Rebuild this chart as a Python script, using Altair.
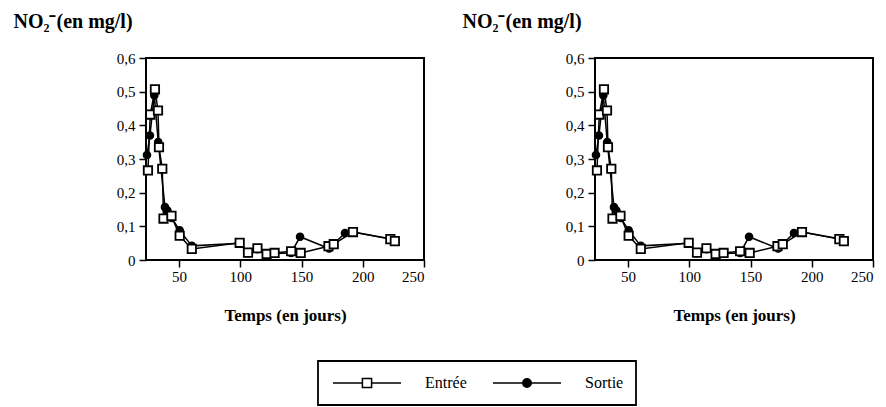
import altair as alt
import pandas as pd

series = ["Entrée", "Sortie"]

days_in = [24.6, 26.5, 30.3, 32.8, 33.6, 36.3, 37.3, 43.8, 50.5, 60.4, 99.5,
           106.3, 114.0, 121.5, 128.0, 141.5, 149.3, 172.0, 176.3, 192.0, 222.5, 226.2]
val_in = [0.266, 0.432, 0.507, 0.444, 0.335, 0.271, 0.123, 0.131, 0.072, 0.033, 0.051,
          0.022, 0.035, 0.018, 0.021, 0.026, 0.021, 0.041, 0.047, 0.083, 0.062, 0.056]

days_out = [23.8, 26.2, 29.8, 33.0, 38.5, 40.5, 44.0, 50.5, 60.4, 99.5,
            106.3, 114.0, 121.5, 128.0, 141.5, 148.8, 172.5, 185.5, 192.0, 222.5, 226.2]
val_out = [0.312, 0.370, 0.489, 0.350, 0.157, 0.147, 0.125, 0.088, 0.042, 0.050,
           0.020, 0.032, 0.015, 0.019, 0.021, 0.069, 0.034, 0.080, 0.083, 0.063, 0.057]

x_ticks = [50, 100, 150, 200, 250]
y_ticks = [0, 0.1, 0.2, 0.3, 0.4, 0.5, 0.6]
y_title = "NO₂⁻(en mg/l)"
x_title = "Temps (en jours)"

df = pd.DataFrame({
    "jour": days_in + days_out,
    "val": val_in + val_out,
    "serie": [series[0]] * len(days_in) + [series[1]] * len(days_out),
})

FONT = "Liberation Serif"

# legend symbols: a line with the marker in its middle (unit = 34 px)
sq_path = "M-1,0H-0.135M0.135,0H1M-0.135,-0.135H0.135V0.135H-0.135Z"
circ_path = ("M-1,0H-0.125M0.125,0H1M0.125,0A0.125,0.125 0 1,1 -0.125,0"
             "A0.125,0.125 0 1,1 0.125,0Z")


def panel(with_legend):
    base = alt.Chart(df)
    x = alt.X("jour:Q",
              scale=alt.Scale(domain=[23, 250], nice=False, zero=False),
              axis=alt.Axis(values=x_ticks, title=x_title, titleFontSize=17,
                            titleFontWeight="bold", titleY=60,
                            titleBaseline="alphabetic", labelPadding=2))
    y = alt.Y("val:Q",
              scale=alt.Scale(domain=[0, 0.6], nice=False),
              axis=alt.Axis(values=y_ticks, title=y_title,
                            labelExpr="datum.value == 0 ? '0' : replace(format(datum.value, '.1f'), '.', ',')",
                            titleAngle=0, titleAlign="left", titleBaseline="alphabetic",
                            titleX=-133, titleY=-31, titleFontSize=20,
                            titleFontWeight="bold", labelPadding=4))
    lines = base.mark_line(color="black", strokeWidth=1.5).encode(
        x=x, y=y, detail="serie:N", order="jour:Q")
    circles = base.transform_filter(alt.datum.serie == series[1]).mark_point(
        shape="circle", filled=True, fill="black", stroke="black",
        strokeWidth=1.2, size=55, opacity=1).encode(x=x, y=y)
    squares = base.transform_filter(alt.datum.serie == series[0]).mark_point(
        shape="square", filled=True, fill="white", stroke="black",
        strokeWidth=1.8, size=70, opacity=1).encode(x=x, y=y)
    layers = [lines, circles, squares]
    if with_legend:
        leg = alt.Legend(title=None, orient="none", legendX=172, legendY=303,
                         direction="horizontal", strokeColor="black",
                         padding=12, symbolSize=4624, symbolStrokeWidth=1.5,
                         symbolStrokeColor="black", symbolOffset=2,
                         clipHeight=20, labelFont=FONT, labelFontSize=16,
                         labelColor="black", labelOffset=23, columnPadding=23,
                         symbolOpacity=1)
        legend_layer = base.transform_filter("datum.jour < 0").mark_point(
            filled=True, strokeWidth=1.5).encode(
            x=x, y=y,
            shape=alt.Shape("serie:N", scale=alt.Scale(domain=series, range=[sq_path, circ_path]), legend=leg),
            fill=alt.Fill("serie:N", scale=alt.Scale(domain=series, range=["white", "black"]), legend=leg),
            stroke=alt.Stroke("serie:N", scale=alt.Scale(domain=series, range=["black", "black"]), legend=leg),
        )
        layers.append(legend_layer)
    return alt.layer(*layers).properties(width=278, height=202)


chart = alt.hconcat(panel(True), panel(False), spacing=35).properties(
    padding={"left": 12, "top": 10, "right": 0, "bottom": 0}
).configure_view(stroke="black", strokeWidth=2).configure_axis(
    labelFont=FONT, labelFontSize=15, labelColor="black", titleFont=FONT,
    titleColor="black", tickColor="black", tickSize=7, tickWidth=1.5,
    domain=False, grid=False
).configure_legend(labelFont=FONT, strokeWidth=1.8)

chart.save("out.html", embed_options={"renderer": "svg", "actions": False})
